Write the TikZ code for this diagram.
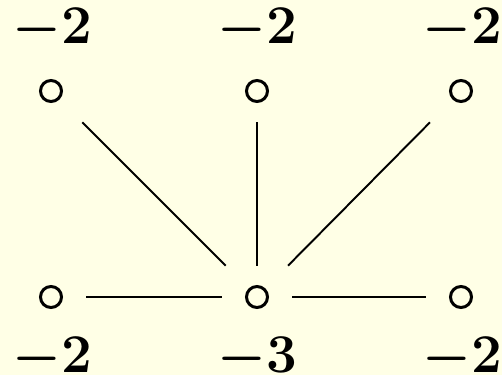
\documentclass[tikz,border=0pt]{standalone}
\usepackage{xcolor}
\usetikzlibrary{positioning}
\definecolor{bg}{HTML}{FFFFE6}
\tikzset{
  vtx/.style={minimum width=14mm, minimum height=12.4mm, inner sep=0pt,
    path picture={\draw[line width=1.7pt] (path picture bounding box.center) circle (2.1mm);}},
  wgt/.style={anchor=base, inner sep=0pt, scale=1.25, transform shape,
    font=\fontsize{24.88}{30}\selectfont\boldmath},
  edg/.style={line width=1.1pt}}
\begin{document}
\begin{tikzpicture}
\fill[bg] (0,0) rectangle (10.04,7.5);
\useasboundingbox (0,0) rectangle (10.04,7.5);
% vertices
\node[vtx] (t1) at (1.02,5.68) {};
\node[vtx] (t2) at (5.14,5.68) {};
\node[vtx] (t3) at (9.22,5.68) {};
\node[vtx] (b1) at (1.02,1.56) {};
\node[vtx] (c)  at (5.14,1.56) {};
\node[vtx] (b3) at (9.22,1.56) {};
% weights
\node[wgt] (lt1) at (1.05,6.62) {$-2$};
\node[wgt] (lt2) at (5.15,6.62) {$-2$};
\node[wgt] (lt3) at (9.25,6.62) {$-2$};
\node[wgt] (lb1) at (1.05,0.06) {$-2$};
\node[wgt] (lc)  at (5.15,0.06) {$-3$};
\node[wgt] (lb3) at (9.25,0.06) {$-2$};
% edges
\foreach \v in {t1,t2,t3,b1,b3}
  \draw[edg] (\v) -- (c);
\end{tikzpicture}
\end{document}
